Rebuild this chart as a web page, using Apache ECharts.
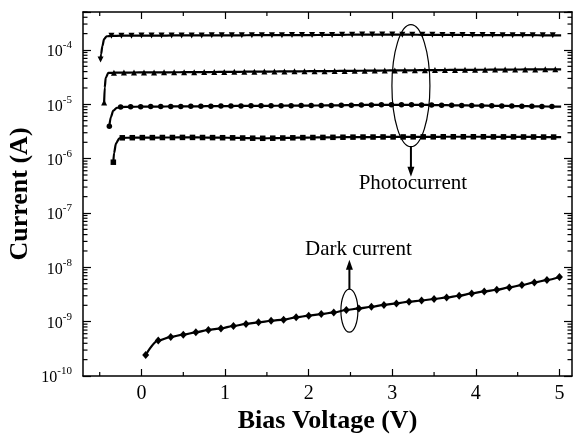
<!DOCTYPE html>
<html><head><meta charset="utf-8">
<script src="https://cdn.jsdelivr.net/npm/echarts@6/dist/echarts.min.js"></script>
<style>html,body{margin:0;padding:0;background:#fff}#c{width:580px;height:434px}</style>
</head><body><div id="c"></div>
<script>
// ---- data ----
const xLabelValues = [0, 1, 2, 3, 4, 5];
const xMinorValues = [-0.5, 0.5, 1.5, 2.5, 3.5, 4.5];
const yDecades = [-10, -9, -8, -7, -6, -5, -4];

// Photocurrent A (down triangles, top)
const aBendV = [-0.49, -0.484, -0.468, -0.448, -0.416];
const aBendI = [6.7e-5, 8.3e-5, 1.18e-4, 1.58e-4, 1.79e-4];
const aV = [-0.36,-0.24,-0.12,0.00,0.12,0.24,0.36,0.48,0.60,0.72,0.84,0.96,1.08,1.20,1.32,1.44,1.56,1.68,1.80,1.92,2.04,2.16,2.28,2.40,2.52,2.64,2.76,2.88,3.00,3.12,3.24,3.36,3.48,3.60,3.72,3.84,3.96,4.08,4.20,4.32,4.44,4.56,4.68,4.80,4.92,5.02];
const aI = [1.82e-4,1.83e-4,1.83e-4,1.84e-4,1.84e-4,1.84e-4,1.85e-4,1.85e-4,1.85e-4,1.85e-4,1.86e-4,1.86e-4,1.86e-4,1.86e-4,1.87e-4,1.87e-4,1.87e-4,1.87e-4,1.88e-4,1.88e-4,1.88e-4,1.89e-4,1.89e-4,1.90e-4,1.91e-4,1.92e-4,1.92e-4,1.92e-4,1.92e-4,1.91e-4,1.91e-4,1.90e-4,1.90e-4,1.89e-4,1.89e-4,1.89e-4,1.88e-4,1.88e-4,1.88e-4,1.87e-4,1.87e-4,1.87e-4,1.87e-4,1.86e-4,1.86e-4,1.86e-4];

// Photocurrent B (up triangles)
const bBendV = [-0.447, -0.44, -0.428, -0.397];
const bBendI = [1.08e-5, 2.03e-5, 3.1e-5, 3.78e-5];
const bV = [-0.33,-0.21,-0.09,0.03,0.15,0.27,0.39,0.51,0.63,0.75,0.87,0.99,1.11,1.23,1.35,1.47,1.59,1.71,1.83,1.95,2.07,2.19,2.31,2.43,2.55,2.67,2.79,2.91,3.03,3.15,3.27,3.39,3.51,3.63,3.75,3.87,3.99,4.11,4.23,4.35,4.47,4.59,4.71,4.83,4.95,5.02];
const bI = [3.83e-5,3.84e-5,3.85e-5,3.86e-5,3.87e-5,3.88e-5,3.89e-5,3.90e-5,3.91e-5,3.92e-5,3.93e-5,3.95e-5,3.96e-5,3.98e-5,3.99e-5,4.00e-5,4.02e-5,4.03e-5,4.04e-5,4.06e-5,4.07e-5,4.08e-5,4.10e-5,4.12e-5,4.14e-5,4.16e-5,4.17e-5,4.19e-5,4.21e-5,4.22e-5,4.24e-5,4.25e-5,4.27e-5,4.28e-5,4.30e-5,4.31e-5,4.32e-5,4.33e-5,4.35e-5,4.36e-5,4.37e-5,4.38e-5,4.39e-5,4.40e-5,4.41e-5,4.41e-5];

// Photocurrent C (circles)
const cBendV = [-0.385, -0.368, -0.337, -0.296];
const cBendI = [3.95e-6, 5.77e-6, 7.66e-6, 8.6e-6];
const cV = [-0.25,-0.13,-0.01,0.11,0.23,0.35,0.47,0.59,0.71,0.83,0.95,1.07,1.19,1.31,1.43,1.55,1.67,1.79,1.91,2.03,2.15,2.27,2.39,2.51,2.63,2.75,2.87,2.99,3.11,3.23,3.35,3.47,3.59,3.71,3.83,3.95,4.07,4.19,4.31,4.43,4.55,4.67,4.79,4.91,5.02];
const cI = [8.9e-6,9.0e-6,9.05e-6,9.1e-6,9.1e-6,9.15e-6,9.15e-6,9.2e-6,9.2e-6,9.25e-6,9.3e-6,9.3e-6,9.35e-6,9.38e-6,9.4e-6,9.4e-6,9.42e-6,9.45e-6,9.48e-6,9.5e-6,9.52e-6,9.55e-6,9.6e-6,9.65e-6,9.7e-6,9.75e-6,9.8e-6,9.8e-6,9.8e-6,9.8e-6,9.75e-6,9.7e-6,9.65e-6,9.6e-6,9.55e-6,9.5e-6,9.45e-6,9.4e-6,9.35e-6,9.3e-6,9.25e-6,9.2e-6,9.15e-6,9.1e-6,9.05e-6];

// Photocurrent D (squares)
const dBendV = [-0.337, -0.329, -0.305, -0.265];
const dBendI = [8.6e-7, 1.26e-6, 1.92e-6, 2.37e-6];
const dV = [-0.23,-0.11,0.01,0.13,0.25,0.37,0.49,0.61,0.73,0.85,0.97,1.09,1.21,1.33,1.45,1.57,1.69,1.81,1.93,2.05,2.17,2.29,2.41,2.53,2.65,2.77,2.89,3.01,3.13,3.25,3.37,3.49,3.61,3.73,3.85,3.97,4.09,4.21,4.33,4.45,4.57,4.69,4.81,4.93,5.02];
const dI = [2.42e-6,2.43e-6,2.44e-6,2.44e-6,2.45e-6,2.45e-6,2.46e-6,2.46e-6,2.45e-6,2.44e-6,2.43e-6,2.42e-6,2.40e-6,2.38e-6,2.37e-6,2.38e-6,2.40e-6,2.42e-6,2.44e-6,2.45e-6,2.46e-6,2.47e-6,2.48e-6,2.49e-6,2.50e-6,2.50e-6,2.51e-6,2.51e-6,2.51e-6,2.52e-6,2.52e-6,2.52e-6,2.53e-6,2.53e-6,2.53e-6,2.53e-6,2.53e-6,2.52e-6,2.52e-6,2.52e-6,2.51e-6,2.51e-6,2.50e-6,2.50e-6,2.50e-6];

// Dark current (diamonds)
const darkV = [0.05,0.20,0.35,0.50,0.65,0.80,0.95,1.10,1.25,1.40,1.55,1.70,1.85,2.00,2.15,2.30,2.45,2.60,2.75,2.90,3.05,3.20,3.35,3.50,3.65,3.80,3.95,4.10,4.25,4.40,4.55,4.70,4.85,5.00];
const darkI = [2.44e-10,4.48e-10,5.24e-10,5.77e-10,6.36e-10,7.03e-10,7.52e-10,8.33e-10,9.07e-10,9.71e-10,1.04e-9,1.09e-9,1.20e-9,1.29e-9,1.38e-9,1.48e-9,1.64e-9,1.75e-9,1.88e-9,2.03e-9,2.17e-9,2.33e-9,2.45e-9,2.61e-9,2.79e-9,3.00e-9,3.31e-9,3.60e-9,3.87e-9,4.27e-9,4.72e-9,5.27e-9,5.83e-9,6.62e-9];

// annotation anchors (data coords)
const photoEllipseAt = [3.223, 2.2e-5];
const darkEllipseAt = [2.487, 1.59e-9];

(function () {
const FONT = 'Liberation Serif';
const chart = echarts.init(document.getElementById('c'), null, {renderer: 'canvas'});

function buildPhoto(bVs, bIs, pVs, pIs) {
  const d = [];
  bVs.forEach((v, i) => d.push(i === 0 ? {value: [v, bIs[i]]} : {value: [v, bIs[i]], symbol: 'none'}));
  pVs.forEach((v, i) => d.push(i === pVs.length - 1 ? {value: [v, pIs[i]], symbol: 'none'} : {value: [v, pIs[i]]}));
  return d;
}
function lineSeries(data, symbol, size, rotate) {
  return {
    type: 'line', data: data, symbol: symbol, symbolSize: size, symbolRotate: rotate || 0,
    showSymbol: true, showAllSymbol: true, smooth: 0.3, smoothMonotone: 'x',
    lineStyle: {color: '#000', width: 2.2}, itemStyle: {color: '#000'},
    animation: false, silent: true, clip: false
  };
}

const baseX = {
  type: 'value', min: -0.7, max: 5.15, splitLine: {show: false},
  axisLine: {show: true, onZero: false, lineStyle: {color: '#000', width: 1.5}},
  axisTick: {show: true, inside: true, length: 7, customValues: xLabelValues, lineStyle: {color: '#000', width: 1.2}}
};
const baseY = {
  type: 'log', logBase: 10, min: 1e-10, max: 5e-4, splitNumber: 7, splitLine: {show: false},
  axisLine: {show: true, onZero: false, lineStyle: {color: '#000', width: 1.5}},
  axisTick: {show: true, inside: true, length: 8, lineStyle: {color: '#000', width: 1.2}}
};

chart.setOption({
  animation: false,
  backgroundColor: '#fff',
  grid: {left: 83, top: 12, right: 8, bottom: 58, containLabel: false, outerBoundsMode: 'none'},
  xAxis: [
    Object.assign({}, baseX, {
      position: 'bottom',
      name: 'Bias Voltage (V)', nameLocation: 'middle', nameGap: 32, nameMoveOverlap: false,
      nameTextStyle: {fontFamily: FONT, fontWeight: 'bold', fontSize: 26, color: '#000'},
      axisLabel: {customValues: xLabelValues, fontFamily: FONT, fontSize: 20, color: '#000', margin: 8}
    }),
    Object.assign({}, baseX, {position: 'top', axisLabel: {show: false}})
  ],
  yAxis: [
    Object.assign({}, baseY, {
      position: 'left',
      name: 'Current (A)', nameLocation: 'middle', nameGap: 50, nameMoveOverlap: false,
      nameTextStyle: {fontFamily: FONT, fontWeight: 'bold', fontSize: 26, color: '#000'},
      axisLabel: {
        margin: 11,
        formatter: function (v) {
          const e = Math.round(Math.log10(v));
          if (Math.abs(Math.log10(v) - e) > 1e-6 || yDecades.indexOf(e) < 0) return '';
          return '{b|10}{s|' + e + '}';
        },
        rich: {
          b: {fontFamily: FONT, fontSize: 16, color: '#000', lineHeight: 20, verticalAlign: 'bottom'},
          s: {fontFamily: FONT, fontSize: 11, color: '#000', lineHeight: 11, verticalAlign: 'top'}
        }
      }
    }),
    Object.assign({}, baseY, {position: 'right', axisLabel: {show: false}})
  ],
  series: [
    lineSeries(buildPhoto(aBendV, aBendI, aV, aI), 'triangle', 6, 180),
    lineSeries(buildPhoto(bBendV, bBendI, bV, bI), 'triangle', 6),
    lineSeries(buildPhoto(cBendV, cBendI, cV, cI), 'circle', 5.5),
    lineSeries(buildPhoto(dBendV, dBendI, dV, dI), 'rect', 5.5),
    lineSeries(darkV.map((v, i) => [v, darkI[i]]), 'diamond', [7, 8])
  ]
});

// ---- minor ticks and annotations (positions from the library's scales) ----
const g = [];
const px = v => chart.convertToPixel({xAxisIndex: 0}, v);
const py = v => chart.convertToPixel({yAxisIndex: 0}, v);
const gLeft = px(-0.7), gRight = px(5.15), gBottom = py(1e-10), gTop = py(5e-4);
const tickStyle = {stroke: '#000', lineWidth: 1.2};
xMinorValues.forEach(v => {
  const x = px(v);
  g.push({type: 'line', shape: {x1: x, y1: gBottom, x2: x, y2: gBottom - 4}, style: tickStyle, silent: true});
  g.push({type: 'line', shape: {x1: x, y1: gTop, x2: x, y2: gTop + 4}, style: tickStyle, silent: true});
});
yDecades.forEach(e => {
  for (let m = 2; m <= 9; m++) {
    const val = m * Math.pow(10, e);
    if (val > 5e-4) break;
    const y = py(val);
    g.push({type: 'line', shape: {x1: gLeft, y1: y, x2: gLeft + 4.5, y2: y}, style: tickStyle, silent: true});
    g.push({type: 'line', shape: {x1: gRight, y1: y, x2: gRight - 4.5, y2: y}, style: tickStyle, silent: true});
  }
});
const lineSt = {stroke: '#000', lineWidth: 1.2, fill: null};
const pe = chart.convertToPixel({xAxisIndex: 0, yAxisIndex: 0}, photoEllipseAt);
g.push({type: 'ellipse', shape: {cx: pe[0], cy: pe[1], rx: 19, ry: 61}, style: lineSt, silent: true});
g.push({type: 'line', shape: {x1: pe[0], y1: pe[1] + 61, x2: pe[0], y2: pe[1] + 83}, style: {stroke: '#000', lineWidth: 2}, silent: true});
g.push({type: 'polygon', shape: {points: [[pe[0], pe[1] + 91], [pe[0] - 3.5, pe[1] + 81], [pe[0] + 3.5, pe[1] + 81]]}, style: {fill: '#000'}, silent: true});
g.push({type: 'text', x: pe[0] + 2, y: pe[1] + 98, style: {text: 'Photocurrent', font: '21px "Liberation Serif"', fill: '#000', align: 'center', verticalAlign: 'middle'}, silent: true});
const de = chart.convertToPixel({xAxisIndex: 0, yAxisIndex: 0}, darkEllipseAt);
g.push({type: 'ellipse', shape: {cx: de[0], cy: de[1], rx: 8.5, ry: 21.5}, style: lineSt, silent: true});
g.push({type: 'line', shape: {x1: de[0], y1: de[1] - 21.5, x2: de[0], y2: de[1] - 42}, style: {stroke: '#000', lineWidth: 2}, silent: true});
g.push({type: 'polygon', shape: {points: [[de[0], de[1] - 51], [de[0] - 3.5, de[1] - 41], [de[0] + 3.5, de[1] - 41]]}, style: {fill: '#000'}, silent: true});
g.push({type: 'text', x: de[0] + 9, y: de[1] - 61, style: {text: 'Dark current', font: '21px "Liberation Serif"', fill: '#000', align: 'center', verticalAlign: 'middle'}, silent: true});

chart.setOption({graphic: {elements: g}});
})();
</script>
</body></html>
